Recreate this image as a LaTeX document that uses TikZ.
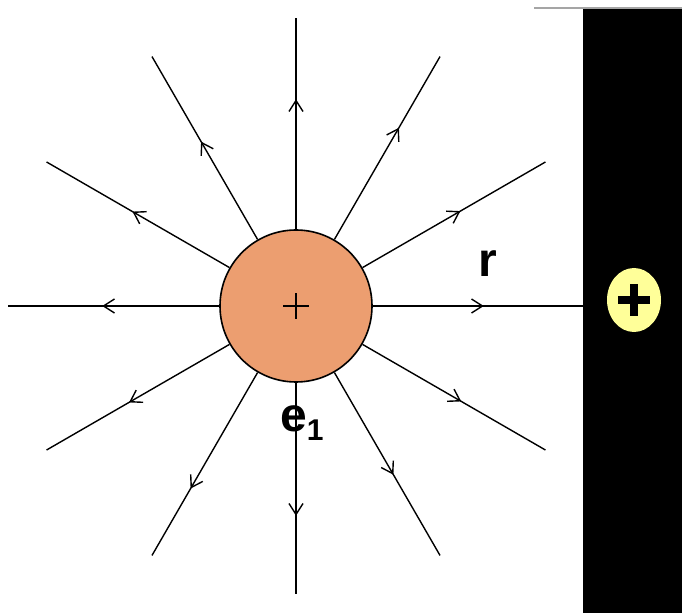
\documentclass[tikz,border=0pt]{standalone}
\usepackage{fontspec}
\setmainfont{Liberation Sans}
\usetikzlibrary{arrows.meta,decorations.markings,shapes.geometric,calc}
\definecolor{chargefill}{RGB}{236,158,112}
\definecolor{paleyellow}{RGB}{255,255,153}
\definecolor{edgegray}{RGB}{165,165,165}
\tikzset{
  ray/.style={line width=1.4pt, black},
  biglabel/.style={font=\fontsize{48}{48}\selectfont\bfseries, inner sep=0pt, anchor=base west}
}
\begin{document}
\begin{tikzpicture}[x=1pt,y=1pt]
\useasboundingbox (0,0) rectangle (682,613);
% plate
\node[fill=black, draw=none, minimum width=99pt, minimum height=604pt, inner sep=0pt, anchor=south west] (plate) at (583,0) {};
\draw[edgegray, line width=1.5pt] (534,605) -- (682,605);
% yellow charge
\node[ellipse, fill=paleyellow, draw=none, minimum width=54pt, minimum height=64pt, inner sep=0pt] (pc) at (634,313) {};
\draw[black, line width=8pt] ($(pc.center)+(-16,0)$) -- ($(pc.center)+(16,0)$);
\draw[black, line width=8pt] ($(pc.center)+(0,-16)$) -- ($(pc.center)+(0,16)$);
% central charge
\node[circle, draw=black, line width=1.6pt, fill=chargefill, minimum size=152pt, inner sep=0pt] (c) at (296,307) {};
\draw[black, line width=2.5pt] ($(c.center)+(-13,0)$) -- ($(c.center)+(13,0)$);
\draw[black, line width=2.5pt] ($(c.center)+(0,-13)$) -- ($(c.center)+(0,13)$);
% rays (angles in standard orientation)
\foreach \a/\t in {30/189,60/205,90/206,120/189,150/188,180/193,210/192,240/210,270/209,300/194,330/190} {
  \coordinate (end\a) at ($(c.center)+(\a:288)$);
  \pgfmathsetmacro{\p}{\t-76}
  \draw[ray, postaction={decorate, decoration={markings, mark=at position \p pt with {\arrow[line width=1.4pt]{Straight Barb[length=11pt,width=14pt]}}}}] (c.\a) -- (end\a);
}
\coordinate (end0) at (c.center -| plate.west);
\draw[ray, postaction={decorate, decoration={markings, mark=at position 111pt with {\arrow[line width=1.4pt]{Straight Barb[length=11pt,width=14pt]}}}}] (c.0) -- (end0);
% labels
\node[biglabel] (r) at (478,336) {r};
\node[biglabel] (e1) at (280,181) {e\raisebox{-9pt}{\fontsize{30}{30}\selectfont\bfseries 1}};
\end{tikzpicture}
\end{document}
